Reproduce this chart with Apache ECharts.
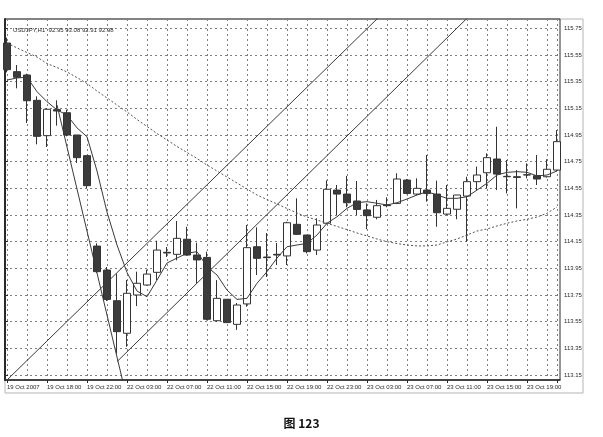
<!DOCTYPE html>
<html>
<head>
<meta charset="utf-8">
<script src="https://cdn.jsdelivr.net/npm/echarts@6/dist/echarts.min.js"></script>
<style>
html,body{margin:0;padding:0;background:#fff;}
#c{width:603px;height:437px;}
</style>
</head>
<body>
<div id="c"></div>
<script>
// ---- data ----
const timeLabels = ['19 Oct 2007','19 Oct 18:00','19 Oct 22:00','22 Oct 03:00','22 Oct 07:00','22 Oct 11:00','22 Oct 15:00','22 Oct 19:00','22 Oct 23:00','23 Oct 03:00','23 Oct 07:00','23 Oct 11:00','23 Oct 15:00','23 Oct 19:00'];
const opens  = [115.64,115.425,115.40,115.21,114.945,115.14,115.117,114.95,114.795,114.117,113.937,113.707,113.463,113.75,113.825,113.92,114.07,114.055,114.168,114.05,114.032,113.557,113.718,113.53,113.683,114.112,114.035,114.055,114.043,114.28,114.20,114.087,114.288,114.537,114.507,114.455,114.388,114.333,114.425,114.437,114.612,114.507,114.537,114.507,114.357,114.393,114.492,114.60,114.667,114.77,114.64,114.637,114.65,114.645,114.637,114.687];
const closes = [115.44,115.383,115.207,114.94,115.143,115.13,114.95,114.78,114.57,113.925,113.717,113.475,113.763,113.838,113.907,114.087,114.065,114.175,114.05,114.013,113.568,113.725,113.543,113.675,114.105,114.025,114.03,114.05,114.292,114.205,114.075,114.275,114.543,114.507,114.442,114.392,114.345,114.42,114.42,114.62,114.512,114.55,114.512,114.367,114.40,114.50,114.60,114.65,114.78,114.657,114.637,114.632,114.652,114.62,114.693,114.90];
const lows   = [115.42,115.30,115.04,114.88,114.86,115.02,114.94,114.74,114.55,113.915,113.705,113.31,113.362,113.667,113.82,113.862,114.035,114.01,114.045,113.838,113.56,113.55,113.54,113.488,113.662,113.90,113.885,113.975,113.975,114.20,114.062,114.05,114.28,114.35,114.408,114.35,114.243,114.318,114.408,114.432,114.505,114.50,114.45,114.262,114.35,114.318,114.15,114.537,114.55,114.537,114.512,114.40,114.625,114.575,114.63,114.68];
const highs  = [115.68,115.475,115.41,115.24,115.15,115.21,115.14,114.95,114.80,114.138,113.96,113.91,113.863,113.925,113.94,114.157,114.11,114.305,114.262,114.142,114.075,113.862,113.72,113.69,114.275,114.258,114.215,114.14,114.30,114.475,114.20,114.325,114.61,114.575,114.643,114.605,114.437,114.463,114.483,114.663,114.62,114.625,114.80,114.608,114.575,114.50,114.637,114.713,114.812,115.012,114.762,114.687,114.737,114.80,114.768,114.987];
const fastMA = [115.362,115.378,115.383,115.275,115.20,115.138,115.10,115.003,114.937,114.68,114.372,114.125,113.919,113.78,113.737,113.862,113.99,114.027,114.063,114.075,113.962,113.90,113.787,113.717,113.725,113.838,113.925,114.027,114.112,114.125,114.137,114.20,114.288,114.337,114.40,114.442,114.45,114.438,114.425,114.442,114.47,114.50,114.525,114.50,114.475,114.475,114.487,114.537,114.588,114.65,114.67,114.675,114.67,114.643,114.65,114.68];
const slowMA = [115.64,115.603,115.569,115.535,115.486,115.456,115.423,115.381,115.336,115.28,115.228,115.175,115.123,115.066,115.014,114.961,114.913,114.864,114.819,114.774,114.725,114.68,114.635,114.59,114.545,114.50,114.466,114.433,114.399,114.365,114.335,114.313,114.288,114.264,114.241,114.215,114.193,114.17,114.15,114.136,114.125,114.118,114.118,114.125,114.148,114.17,114.20,114.23,114.245,114.268,114.288,114.305,114.318,114.335,114.363,114.41];
const steepLine   = [[5,115.175],[12,112.97]];
const upperChannel = [[0,113.1125],[40,116.04]];
const lowerChannel = [[11,113.25],[50,116.12]];
const priceTicks = [113.15,113.35,113.55,113.75,113.95,114.15,114.35,114.55,114.75,114.95,115.15,115.35,115.55,115.75];
const headerText = 'USDJPY,H1  92.95 93.08 92.91 92.98';
const caption = '图 123';

// ---- build ----
const categories = opens.map((_, i) => (i % 4 === 0 ? timeLabels[i / 4] : ''));
const candles = opens.map((o, i) => [o, closes[i], lows[i], highs[i]]);
const yMin = 113.1125, yMax = 115.82;
const ink = '#2a2a2a';
const gridLine = { color: '#808080', width: 1, type: [2, 3] };
const font = '"Liberation Sans", Arial, sans-serif';

const chart = echarts.init(document.getElementById('c'), null, { renderer: 'canvas' });
chart.setOption({
  animation: false,
  backgroundColor: '#fff',
  title: [
    { text: headerText, left: 8, top: 22, textStyle: { fontSize: 6, fontWeight: 'normal', color: ink, fontFamily: font } },
    { text: caption, left: 'center', top: 412, textStyle: { fontSize: 12, fontWeight: 'bold', color: '#111', fontFamily: '"Noto Sans CJK SC", sans-serif' } }
  ],
  graphic: [
    { type: 'rect', shape: { x: 5, y: 19, width: 578, height: 374 }, style: { fill: 'none', stroke: '#b5b5b5', lineWidth: 1 }, silent: true, z: -1 }
  ],
  grid: [
    { left: 7, right: 46, top: 19, bottom: 57 },
    { left: 5, right: 43, top: 19, bottom: 57, show: true, borderColor: ink, borderWidth: 1 }
  ],
  xAxis: [
    {
      type: 'category', gridIndex: 0, data: categories, boundaryGap: false,
      axisLine: { show: false },
      axisTick: { show: true, interval: 3, length: 3, lineStyle: { color: ink } },
      axisLabel: { interval: 3, align: 'left', margin: 4, fontSize: 6, color: ink, fontFamily: font, showMaxLabel: true, hideOverlap: false },
      splitLine: { show: true, interval: 1, lineStyle: gridLine }
    },
    {
      type: 'value', gridIndex: 1, min: 0, max: 1, show: true,
      axisLine: { show: true, onZero: false, lineStyle: { color: ink, width: 1.5 } },
      axisTick: { show: false }, axisLabel: { show: false }, splitLine: { show: false }
    }
  ],
  yAxis: [
    { type: 'value', gridIndex: 0, min: yMin, max: yMax, show: false, splitLine: { show: false } },
    {
      type: 'value', gridIndex: 1, min: yMin, max: yMax, position: 'right',
      axisLine: { show: true, lineStyle: { color: ink, width: 2 } },
      axisTick: { show: true, length: 3, customValues: priceTicks, lineStyle: { color: ink } },
      axisLabel: { customValues: priceTicks, margin: 4, fontSize: 6, color: ink, fontFamily: font, formatter: v => v.toFixed(2) },
      splitLine: { show: true, lineStyle: gridLine }
    }
  ],
  series: [
    {
      type: 'candlestick', xAxisIndex: 0, yAxisIndex: 0, data: candles, barWidth: 7,
      itemStyle: { color: '#ffffff', color0: '#3c3c3c', borderColor: '#333', borderColor0: '#333', borderWidth: 1 }
    },
    { type: 'line', xAxisIndex: 0, yAxisIndex: 0, data: fastMA, symbol: 'none', lineStyle: { color: '#3a3a3a', width: 1 }, z: 3 },
    { type: 'line', xAxisIndex: 0, yAxisIndex: 0, data: slowMA, symbol: 'none', lineStyle: { color: '#555', width: 1, type: [2, 2] }, z: 3 },
    { type: 'line', xAxisIndex: 0, yAxisIndex: 0, data: steepLine, symbol: 'none', clip: true, lineStyle: { color: '#3a3a3a', width: 1 }, z: 3 },
    { type: 'line', xAxisIndex: 0, yAxisIndex: 0, data: upperChannel, symbol: 'none', clip: true, lineStyle: { color: '#3a3a3a', width: 1 }, z: 3 },
    { type: 'line', xAxisIndex: 0, yAxisIndex: 0, data: lowerChannel, symbol: 'none', clip: true, lineStyle: { color: '#3a3a3a', width: 1 }, z: 3 }
  ]
});
</script>
</body>
</html>
